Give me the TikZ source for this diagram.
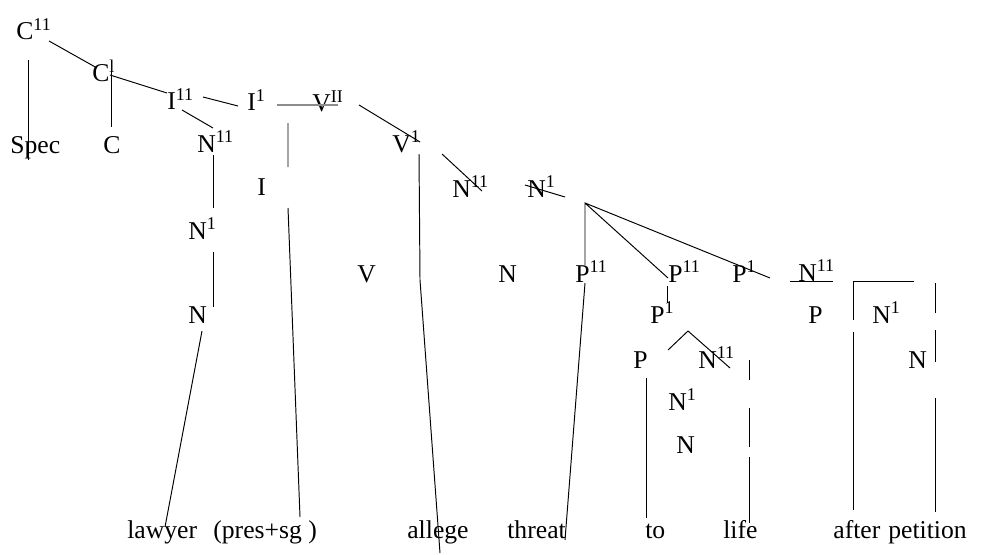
\documentclass[tikz,border=0pt]{standalone}
\usepackage{fontspec}
\setmainfont{Liberation Serif}
\usepackage{tikz}
\tikzset{
  lbl/.style    ={inner sep=0pt, anchor=base west, font=\fontsize{14.6}{16}\selectfont},
  word/.style   ={lbl},
  branch/.style ={line width=0.55pt, black},
  greybar/.style={line width=1.3pt, black!45},
}
\newcommand{\lvl}[2]{#1\textsuperscript{#2}}

\begin{document}
\begin{tikzpicture}[x=0.02cm, y=-0.02cm]
  \useasboundingbox (0,0) rectangle (982,554);
  % category labels, top rows
  \node[lbl] (cpp)  at (16,40)   {\lvl{C}{11}};
  \node[lbl] (spec) at (10,153)  {Spec};
  \node[lbl] (cp)   at (92,82)   {\lvl{C}{l}};
  \node[lbl] (c)    at (103,153) {C};
  \node[lbl] (ipp)  at (167,110) {\lvl{I}{11}};
  \node[lbl] (ip)   at (247,111) {\lvl{I}{1}};
  \node[lbl] (vpp)  at (312,112) {\lvl{V}{II}};
  \node[lbl] (nppA) at (197,152) {\lvl{N}{11}};
  \node[lbl] (ihd)  at (257,195) {I};
  \node[lbl] (npA)  at (188,239) {\lvl{N}{1}};
  \node[lbl] (nA)   at (188,323) {N};
  \node[lbl] (vp)   at (392,152) {\lvl{V}{1}};
  \node[lbl] (vhd)  at (357,282) {V};
  \node[lbl] (nppB) at (452,197) {\lvl{N}{11}};
  \node[lbl] (npB)  at (527,197) {\lvl{N}{1}};
  \node[lbl] (nB)   at (498,282) {N};
  % the prepositional phrases
  \node[lbl] (ppA)  at (575,282) {\lvl{P}{11}};
  \node[lbl] (ppB)  at (668,282) {\lvl{P}{11}};
  \node[lbl] (pC)   at (732,282) {\lvl{P}{1}};
  \node[lbl] (nppC) at (798,281) {\lvl{N}{11}};
  \node[lbl] (pB)   at (650,323) {\lvl{P}{1}};
  \node[lbl] (phC)  at (808,323) {P};
  \node[lbl] (npC)  at (872,323) {\lvl{N}{1}};
  \node[lbl] (nC)   at (908,368) {N};
  \node[lbl] (phB)  at (633,368) {P};
  \node[lbl] (nppD) at (698,368) {\lvl{N}{11}};
  \node[lbl] (npD)  at (668,410) {\lvl{N}{1}};
  \node[lbl] (nD)   at (676,453) {N};
  % words
  \node[word] (lawyer)   at (127,538) {lawyer};
  \node[word] (infl)     at (213,538) {(pres+sg )};
  \node[word] (allege)   at (407,538) {allege};
  \node[word] (threat)   at (507,538) {threat};
  \node[word] (to)       at (645,538) {to};
  \node[word] (life)     at (723,538) {life};
  \node[word] (after)    at (833,538) {after};
  \node[word] (petition) at (888,538) {petition};
  % branches, as drawn
  \draw[branch] (28,60) -- (28,160);
  \draw[branch] (49,41) -- (97,68) (110,75) -- (167,93);
  \draw[branch] (111,72) -- (111,127);
  \draw[branch] (203,97) -- (238,106) (182,110) -- (213,128);
  \draw[greybar] (277,105) -- (338,105);
  \draw[branch] (288,123) -- (288,167) (288,208) -- (300,517);
  \draw[branch] (213,155) -- (213,208) (213,252) -- (213,307);
  \draw[branch] (202,331) -- (165,527);
  \draw[branch] (359,105) -- (420,142);
  \draw[branch] (419,154) -- (420,280) -- (440,553);
  \draw[branch] (442,154) -- (482,191) (525,185) -- (565,197);
  \draw[branch] (585,265) -- (585,203) -- (668,278) (585,203) -- (770,278);
  \draw[branch] (585,283) -- (565,540);
  \draw[branch] (667,286) -- (667,303);
  \draw[branch] (668,350) -- (688,331) -- (730,368);
  \draw[branch] (646,378) -- (646,518);
  \draw[branch] (749,360) -- (749,380) (749,408) -- (749,447) (749,457) -- (749,523);
  \draw[branch] (790,281) -- (833,281);
  \draw[branch] (914,281) -- (853,281) -- (853,320) (853,332) -- (853,510);
  \draw[branch] (935,283) -- (935,313) (935,330) -- (935,362) (935,398) -- (935,512);
\end{tikzpicture}
\end{document}
